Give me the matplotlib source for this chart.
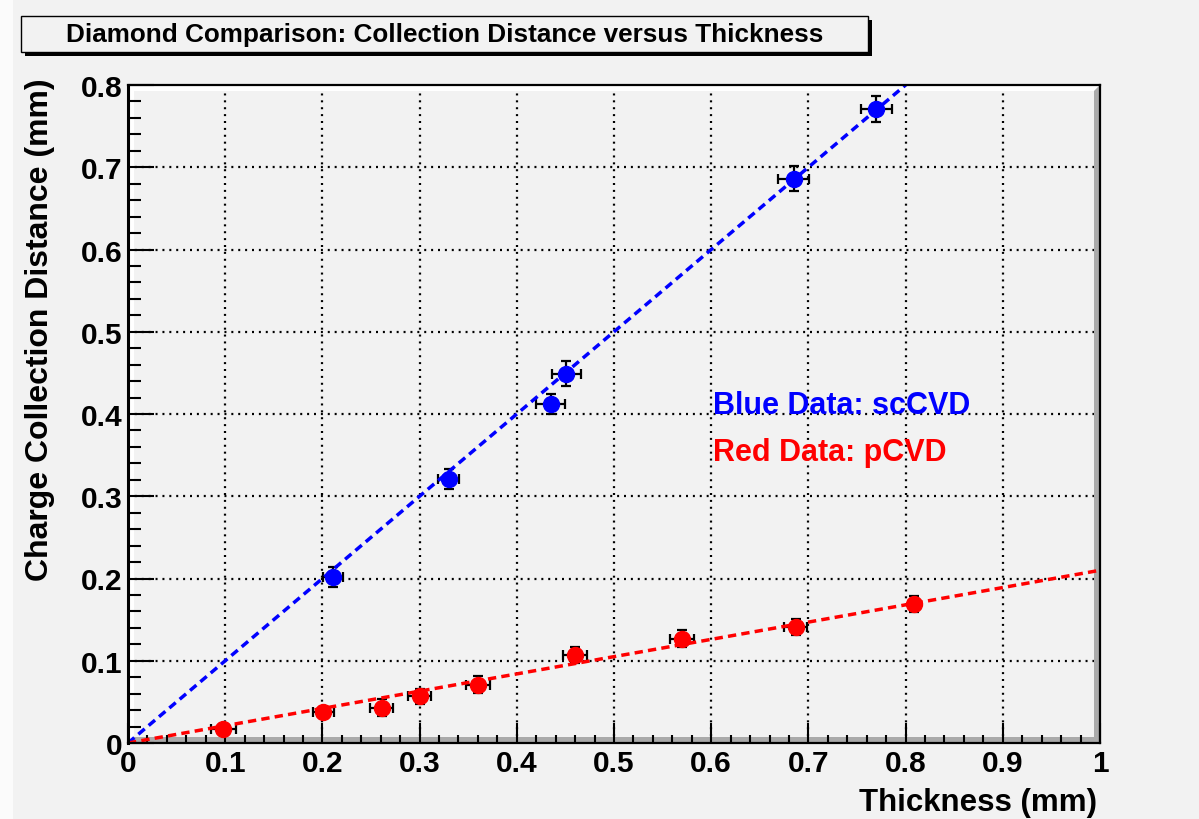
import numpy as np
import matplotlib
matplotlib.use("Agg")
import matplotlib.pyplot as plt
from matplotlib.patches import Rectangle, Polygon
from matplotlib.ticker import FixedLocator, MultipleLocator

# ---------------- data ----------------
blue_x = [0.211, 0.330, 0.435, 0.451, 0.685, 0.770]
blue_y = [0.202, 0.321, 0.412, 0.449, 0.686, 0.771]
blue_xerr = [0.010, 0.011, 0.015, 0.015, 0.016, 0.016]
blue_yerr = [0.012, 0.012, 0.012, 0.015, 0.015, 0.016]

red_x = [0.098, 0.201, 0.261, 0.300, 0.360, 0.460, 0.570, 0.687, 0.809]
red_y = [0.017, 0.038, 0.043, 0.057, 0.071, 0.107, 0.127, 0.141, 0.169]
red_xerr = [0.013, 0.011, 0.012, 0.012, 0.012, 0.012, 0.012, 0.012, 0.005]
red_yerr = [0.005, 0.005, 0.010, 0.009, 0.010, 0.010, 0.010, 0.010, 0.010]

blue_fit_slope = 1.0
red_fit_slope = 0.21
fit_x = [0.0, 1.0]

x_ticks = [0, 0.1, 0.2, 0.3, 0.4, 0.5, 0.6, 0.7, 0.8, 0.9, 1.0]
x_ticklabels = ["0", "0.1", "0.2", "0.3", "0.4", "0.5", "0.6", "0.7", "0.8", "0.9", "1"]
y_ticks = [0, 0.1, 0.2, 0.3, 0.4, 0.5, 0.6, 0.7, 0.8]
y_ticklabels = ["0", "0.1", "0.2", "0.3", "0.4", "0.5", "0.6", "0.7", "0.8"]

title = "Diamond Comparison: Collection Distance versus Thickness"
x_label = "Thickness (mm)"
y_label = "Charge Collection Distance (mm)"
blue_note = "Blue Data: scCVD"
red_note = "Red Data: pCVD"

# ---------------- figure ----------------
W, H = 1199, 820
plt.rcParams['font.family'] = ['Liberation Sans', 'DejaVu Sans']
plt.rcParams['font.weight'] = 'bold'
bg = '#f2f2f2'
fig = plt.figure(figsize=(W / 100, H / 100), dpi=100, facecolor=bg)

# light strip on the left edge of the canvas
fig.add_artist(Rectangle((0, 0), 13 / W, 1, transform=fig.transFigure,
                         facecolor='#fbfbfb', edgecolor='none', zorder=0))

L, R, T, B = 128, 1100, 86, 744
ax = fig.add_axes([L / W, 1 - B / H, (R - L) / W, (B - T) / H])
ax.set_facecolor(bg)
ax.set_xlim(0, 1)
ax.set_ylim(0, 0.8)

# grid (dotted)
for xv in x_ticks[1:-1]:
    ax.axvline(xv, color='black', lw=1.6, linestyle=(0, (0.9, 2.2)), zorder=0.8)
for yv in y_ticks[1:-1]:
    ax.axhline(yv, color='black', lw=1.6, linestyle=(0, (0.9, 2.2)), zorder=0.8)

# ROOT-like frame bevel
bx = 6 / (R - L)
by = 6 / (B - T)
light = Polygon([(0, 0), (bx, by), (bx, 1 - by), (1 - bx, 1 - by), (1, 1), (0, 1)],
                closed=True, transform=ax.transAxes, facecolor='white',
                edgecolor='none', zorder=1)
dark = Polygon([(0, 0), (1, 0), (1, 1), (1 - bx, 1 - by), (1 - bx, by), (bx, by)],
               closed=True, transform=ax.transAxes, facecolor='#aaaaaa',
               edgecolor='none', zorder=1)
ax.add_patch(light)
ax.add_patch(dark)

# data with error bars
ax.errorbar(blue_x, blue_y, xerr=blue_xerr, yerr=blue_yerr, fmt='o',
            color='#0000ff', ms=11.5, mec='#0000ff', ecolor='black',
            elinewidth=1.6, capsize=3.4, capthick=1.6, zorder=3)
ax.errorbar(red_x, red_y, xerr=red_xerr, yerr=red_yerr, fmt='o',
            color='#ff0000', ms=11.5, mec='#ff0000', ecolor='black',
            elinewidth=1.6, capsize=3.4, capthick=1.6, zorder=3)

# fit lines
fx = np.array(fit_x)
ax.plot(fx, blue_fit_slope * fx, color='#0000ff', lw=2.5,
        linestyle=(0, (2.4, 1.5)), zorder=4)
ax.plot(fx, red_fit_slope * fx, color='#ff0000', lw=2.5,
        linestyle=(0, (2.4, 1.5)), zorder=4)

# notes
ax.text(0.602, 0.401, blue_note, color='#0000ff', fontsize=22,
        fontweight='bold', ha='left', va='baseline', zorder=5)
ax.text(0.602, 0.344, red_note, color='#ff0000', fontsize=22,
        fontweight='bold', ha='left', va='baseline', zorder=5)

# ticks
ax.xaxis.set_major_locator(FixedLocator(x_ticks))
ax.yaxis.set_major_locator(FixedLocator(y_ticks))
ax.set_xticklabels(x_ticklabels)
ax.set_yticklabels(y_ticklabels)
ax.xaxis.set_minor_locator(MultipleLocator(0.02))
ax.yaxis.set_minor_locator(MultipleLocator(0.02))
ax.tick_params(axis='both', which='both', direction='in', color='black',
               width=1.5, top=False, right=False)
ax.tick_params(axis='x', which='major', length=14.5, pad=4, labelsize=21.5)
ax.tick_params(axis='x', which='minor', length=6)
ax.tick_params(axis='y', which='major', length=19, pad=4, labelsize=21.5)
ax.tick_params(axis='y', which='minor', length=9.5)
for lab in ax.get_xticklabels() + ax.get_yticklabels():
    lab.set_fontweight('bold')
ax.set_axisbelow(False)

for side in ['top', 'right', 'bottom']:
    ax.spines[side].set_linewidth(1.6)
    ax.spines[side].set_zorder(6)
ax.spines['left'].set_linewidth(2.2)
ax.spines['left'].set_zorder(6)

# axis titles
fig.text(1097 / W, 1 - 803 / H, x_label, fontsize=22.5, fontweight='bold',
         ha='right', va='center')
fig.text(40 / W, 1 - 78 / H, y_label, fontsize=23, fontweight='bold',
         ha='center', va='top', rotation=90)

# title box with shadow
tl, tr, tt, tb = 21, 868, 17, 53
sh = 4
fig.add_artist(Rectangle(((tl + sh) / W, 1 - (tb + sh) / H), (tr - tl) / W,
                         (tb - tt) / H, transform=fig.transFigure,
                         facecolor='black', edgecolor='none', zorder=1))
fig.add_artist(Rectangle((tl / W, 1 - tb / H), (tr - tl) / W, (tb - tt) / H,
                         transform=fig.transFigure, facecolor=bg,
                         edgecolor='black', lw=1, zorder=2))
fig.text((tl + tr) / 2 / W, 1 - (tt + tb) / 2 / H, title, fontsize=18.8,
         fontweight='bold', ha='center', va='center', zorder=3)

fig.savefig('out.png', dpi=100, facecolor=bg)
